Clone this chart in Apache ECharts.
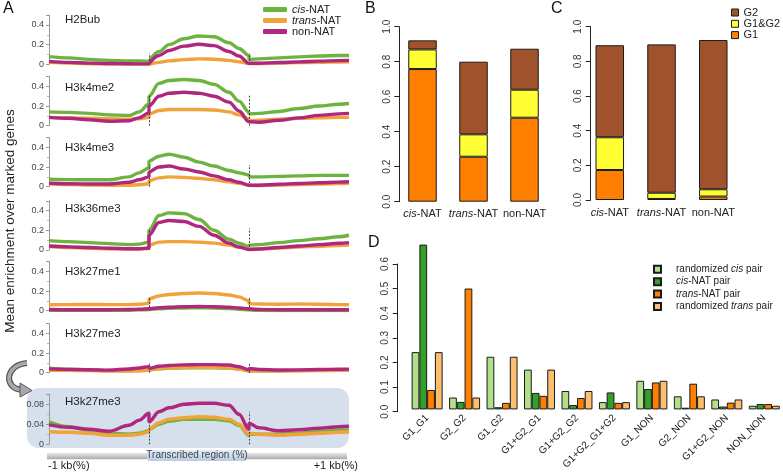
<!DOCTYPE html>
<html><head><meta charset="utf-8">
<script src="https://cdn.jsdelivr.net/npm/echarts@6/dist/echarts.min.js"></script>
<style>html,body{margin:0;padding:0;background:#fff}#c{width:783px;height:472px}</style>
</head><body><div id="c"></div>
<script>
// ---------- Panel A data ----------
const xPos = [0,20,40,60,80,90,100,100,110,120,135,150,165,180,190,200,200,210,230,250,270,290,300];
const markNames = ['H2Bub','H3k4me2','H3k4me3','H3k36me3','H3k27me1','H3k27me3','H3k27me3'];
const seriesNames = ['cis-NAT','trans-NAT','non-NAT'];

const h2bubCis   = [0.078,0.065,0.05,0.04,0.035,0.033,0.03, 0.035,0.13,0.2,0.26,0.288,0.28,0.22,0.16,0.09, 0.05,0.055,0.065,0.075,0.085,0.09,0.09];
const h2bubTrans = [0.02,0.012,0.006,0.003,0.002,0.002,0.002, 0.002,0.02,0.035,0.048,0.055,0.052,0.04,0.025,0.008, 0.005,0.008,0.012,0.017,0.02,0.024,0.025];
const h2bubNon   = [0.03,0.02,0.012,0.008,0.005,0.004,0.005, 0.008,0.09,0.14,0.185,0.203,0.19,0.13,0.085,0.01, 0.005,0.01,0.018,0.025,0.032,0.037,0.038];

const k4me2Cis   = [0.14,0.135,0.125,0.11,0.105,0.14,0.22, 0.3,0.43,0.46,0.47,0.46,0.42,0.34,0.25,0.14, 0.12,0.125,0.145,0.175,0.2,0.218,0.225];
const k4me2Trans = [0.085,0.08,0.075,0.07,0.065,0.07,0.085, 0.12,0.155,0.165,0.165,0.165,0.16,0.14,0.11,0.07, 0.05,0.055,0.065,0.075,0.08,0.085,0.085];
const k4me2Non   = [0.085,0.075,0.06,0.045,0.05,0.08,0.13, 0.2,0.3,0.33,0.34,0.33,0.3,0.24,0.15,0.04, 0.035,0.035,0.055,0.08,0.105,0.12,0.125];

const k4me3Cis   = [0.075,0.072,0.07,0.07,0.1,0.14,0.19, 0.26,0.31,0.33,0.3,0.25,0.21,0.165,0.14,0.12, 0.1,0.1,0.105,0.11,0.115,0.115,0.115];
const k4me3Trans = [0.03,0.022,0.018,0.015,0.015,0.02,0.03, 0.06,0.09,0.1,0.095,0.085,0.07,0.05,0.035,0.015, 0.01,0.012,0.018,0.023,0.028,0.032,0.035];
const k4me3Non   = [0.035,0.03,0.028,0.028,0.045,0.07,0.1, 0.15,0.2,0.21,0.18,0.15,0.11,0.07,0.045,0.015, 0.01,0.015,0.025,0.033,0.04,0.046,0.05];

const k36me3Cis   = [0.095,0.085,0.075,0.065,0.055,0.06,0.08, 0.2,0.35,0.377,0.37,0.31,0.2,0.11,0.07,0.035, 0.05,0.055,0.075,0.095,0.115,0.135,0.15];
const k36me3Trans = [0.035,0.025,0.018,0.012,0.01,0.01,0.015, 0.05,0.08,0.085,0.085,0.08,0.07,0.05,0.03,0.01, 0.005,0.01,0.02,0.03,0.038,0.045,0.05];
const k36me3Non   = [0.04,0.032,0.025,0.018,0.012,0.012,0.02, 0.15,0.28,0.3,0.29,0.24,0.15,0.07,0.03,0.005, 0.005,0.01,0.025,0.04,0.055,0.068,0.075];

const k27me1Cis   = [0.005,0.004,0.004,0.004,0.005,0.008,0.012, 0.012,0.02,0.025,0.028,0.03,0.028,0.022,0.015,0.01, 0.005,0.003,0.002,0.002,0.002,0.002,0.002];
const k27me1Trans = [0.06,0.062,0.063,0.062,0.062,0.065,0.075, 0.12,0.15,0.165,0.175,0.18,0.175,0.16,0.14,0.1, 0.07,0.068,0.065,0.068,0.065,0.062,0.06];
const k27me1Non   = [0.012,0.01,0.01,0.01,0.012,0.015,0.02, 0.02,0.03,0.035,0.04,0.042,0.04,0.035,0.028,0.02, 0.015,0.012,0.01,0.01,0.01,0.01,0.01];

const k27me3Cis   = [0.045,0.035,0.028,0.022,0.02,0.022,0.027, 0.03,0.04,0.046,0.05,0.05,0.05,0.047,0.038,0.018, 0.02,0.02,0.02,0.022,0.025,0.028,0.028];
const k27me3Trans = [0.025,0.024,0.022,0.018,0.018,0.02,0.025, 0.03,0.043,0.05,0.053,0.055,0.054,0.05,0.04,0.02, 0.022,0.02,0.018,0.02,0.022,0.024,0.025];
const k27me3Non   = [0.039,0.034,0.03,0.026,0.038,0.048,0.062, 0.045,0.065,0.073,0.08,0.082,0.082,0.078,0.06,0.03, 0.042,0.033,0.027,0.029,0.032,0.035,0.036];

const aTickLabels = ['0','0.2','0.4'];
const aTickLabelsZoom = ['0','0.04','0.08'];

// ---------- Panel B / C data ----------
const barCats = ['cis-NAT','trans-NAT','non-NAT'];
const groupNames = ['G1','G1&G2','G2'];
const bG1  = [0.758,0.257,0.48];
const bG12 = [0.112,0.128,0.16];
const bG2  = [0.052,0.415,0.234];
const cG1  = [0.173,0.006,0.02];
const cG12 = [0.189,0.036,0.042];
const cG2  = [0.531,0.856,0.861];
const bcTickLabels = ['0.0','0.2','0.4','0.6','0.8','1.0'];

// ---------- Panel D data ----------
const dCats = ['G1_G1','G2_G2','G1_G2','G1+G2_G1','G1+G2_G2','G1+G2_G1+G2','G1_NON','G2_NON','G1+G2_NON','NON_NON'];
const dNames = ['randomized cis pair','cis-NAT pair','trans-NAT pair','randomized trans pair'];
const dRandCis   = [0.236,0.049,0.217,0.164,0.076,0.030,0.118,0.054,0.041,0.015];
const dCisNat    = [0.679,0.031,0.009,0.068,0.018,0.070,0.084,0.007,0.012,0.022];
const dTransNat  = [0.080,0.498,0.027,0.056,0.047,0.027,0.111,0.106,0.028,0.022];
const dRandTrans = [0.236,0.049,0.217,0.164,0.076,0.030,0.118,0.054,0.041,0.015];
const dTickLabels = ['0.0','0.1','0.2','0.3','0.4','0.5','0.6'];

// ---------- styling / layout ----------
const FONT = 'Liberation Sans, Arial, sans-serif';
const NARROW = 'Liberation Sans Narrow, Liberation Sans, Arial, sans-serif';
const lineColors = ['#6db33f','#f2a23a','#b0287e'];
const stackColors = ['#ff8000','#ffff33','#a0522d'];
const dColors = ['#b2df8a','#33a02c','#ff7f00','#fdbf6f'];

const panelData = [
  [h2bubCis,h2bubTrans,h2bubNon],
  [k4me2Cis,k4me2Trans,k4me2Non],
  [k4me3Cis,k4me3Trans,k4me3Non],
  [k36me3Cis,k36me3Trans,k36me3Non],
  [k27me1Cis,k27me1Trans,k27me1Non],
  [k27me3Cis,k27me3Trans,k27me3Non],
  [k27me3Cis,k27me3Trans,k27me3Non]
];
const aTops = [15.1,76.5,137.5,200.8,261.5,323.5,394.3];
const aHeights = [49.2,49.2,49.2,49.2,49.2,49.2,50];
const aMax = [0.5,0.5,0.5,0.5,0.5,0.5,0.1];
const aInt = [0.2,0.2,0.2,0.2,0.2,0.2,0.04];
const aLabelY = [19.5,87.5,147.7,209.3,272.3,334,401.7];
const dashTop = [0.11,0.31,0.22,0.22,0.14,0.095,0.065];

function ital(name){
  return name.replace(/^(cis|trans)\b/, '{i|$1}').replace(/ (cis|trans) /, ' {i|$1} ');
}
function richI(size, fam){ return { i: { fontStyle:'italic', fontSize:size, color:'#222', fontFamily: fam || FONT } }; }
function tickFmt(labels, step){
  return function(v){
    const k = Math.round(v/step);
    if (Math.abs(v - k*step) > 1e-9) return '';
    return labels[k] !== undefined ? labels[k] : '';
  };
}

const grid = [], xAxis = [], yAxis = [], series = [];

// Panel A
for (let p = 0; p < 7; p++) {
  grid.push({ left: 49, top: aTops[p], width: 300, height: aHeights[p] });
  xAxis.push({ gridIndex: p, type: 'value', min: 0, max: 300, show: false });
  yAxis.push({
    gridIndex: p, type: 'value', min: 0, max: aMax[p], interval: aInt[p],
    axisLine: { show: true, lineStyle: { color: '#9a9a9a', width: 1 } },
    axisTick: { show: true, length: 3, lineStyle: { color: '#9a9a9a' } },
    minorTick: { show: true, splitNumber: 2, length: 2, lineStyle: { color: '#b5b5b5' } },
    splitLine: { show: false },
    axisLabel: { fontSize: 9, color: '#444', margin: 5,
      formatter: tickFmt(p < 6 ? aTickLabels : aTickLabelsZoom, aInt[p]) }
  });
  for (let s = 0; s < 3; s++) {
    const arr = panelData[p][s];
    const ser = {
      type: 'line', name: seriesNames[s], xAxisIndex: p, yAxisIndex: p,
      data: xPos.map((x, k) => [x, arr[k]]),
      showSymbol: false, symbol: 'none', smooth: 0.35, smoothMonotone: 'x',
      lineStyle: { width: 3.4, color: lineColors[s] }, itemStyle: { color: lineColors[s] },
      silent: true, z: 3 + s
    };
    if (s === 2) {
      ser.markLine = {
        silent: true, symbol: 'none', label: { show: false },
        lineStyle: { color: '#333', width: 0.9, type: [2, 1.5] },
        data: [
          [{ coord: [100, 0] }, { coord: [100, dashTop[p]] }],
          [{ coord: [200, 0] }, { coord: [200, dashTop[p]] }]
        ]
      };
    }
    series.push(ser);
  }
}

// Panels B and C
function addStackPanel(left, width, axLeft, top, height, d1, d2, d3, stackId) {
  const gi = grid.length;
  grid.push({ left: left, top: top, width: width, height: height });
  xAxis.push({ gridIndex: gi, type: 'category', data: barCats,
    axisLine: { show: false }, axisTick: { show: false },
    axisLabel: { interval: 0, hideOverlap: false, fontSize: 11, color: '#222', margin: 7,
      formatter: v => ital(v), rich: richI(11) } });
  yAxis.push({ gridIndex: gi, type: 'value', min: 0, max: 1, show: false });
  [d1, d2, d3].forEach((d, k) => {
    series.push({ type: 'bar', name: groupNames[k], stack: stackId, xAxisIndex: gi, yAxisIndex: gi,
      data: d, barWidth: 28.5, silent: true,
      itemStyle: { color: stackColors[k], borderColor: '#1a1a1a', borderWidth: 1 } });
  });
  const ai = grid.length;
  grid.push({ left: axLeft, top: top, width: 5, height: height });
  xAxis.push({ gridIndex: ai, type: 'value', min: 0, max: 1, show: false });
  yAxis.push({ gridIndex: ai, type: 'value', min: 0, max: 1, interval: 0.2,
    axisLine: { show: true, lineStyle: { color: '#222', width: 1 } },
    axisTick: { show: true, length: 5, lineStyle: { color: '#222' } },
    splitLine: { show: false },
    axisLabel: { rotate: 90, fontSize: 10, color: '#333', margin: 7, formatter: tickFmt(bcTickLabels, 0.2) } });
}
addStackPanel(397, 153, 399.3, 26.7, 175, bG1, bG12, bG2, 'b');
addStackPanel(583.9, 155.25, 590.7, 26.7, 173.3, cG1, cG12, cG2, 'c');

// Panel D
(function(){
  const gi = grid.length;
  grid.push({ left: 408.4, top: 239.5, width: 376, height: 172.2 });
  xAxis.push({ gridIndex: gi, type: 'category', data: dCats,
    axisLine: { show: false }, axisTick: { show: false },
    axisLabel: { interval: 0, hideOverlap: false, rotate: 45, fontSize: 10, color: '#222', margin: 7 } });
  yAxis.push({ gridIndex: gi, type: 'value', min: 0, max: 0.7, show: false });
  [dRandCis, dCisNat, dTransNat, dRandTrans].forEach((d, k) => {
    series.push({ type: 'bar', name: dNames[k], xAxisIndex: gi, yAxisIndex: gi, data: d,
      barWidth: 7.75, barGap: '0%', silent: true,
      itemStyle: { color: dColors[k], borderColor: '#1a1a1a', borderWidth: 1 } });
  });
  const ai = grid.length;
  grid.push({ left: 397.7, top: 264, width: 5, height: 147.7 });
  xAxis.push({ gridIndex: ai, type: 'value', min: 0, max: 1, show: false });
  yAxis.push({ gridIndex: ai, type: 'value', min: 0, max: 0.6, interval: 0.1,
    axisLine: { show: true, lineStyle: { color: '#222', width: 1 } },
    axisTick: { show: true, length: 5, lineStyle: { color: '#222' } },
    splitLine: { show: false },
    axisLabel: { rotate: 90, fontSize: 10, color: '#333', margin: 7, formatter: tickFmt(dTickLabels, 0.1) } });
})();

const legend = [
  { data: seriesNames, left: 263, top: 4, padding: 0, orient: 'vertical', icon: 'roundRect',
    itemWidth: 24, itemHeight: 5, itemGap: 0, selectedMode: false,
    formatter: n => ital(n),
    textStyle: { fontSize: 11, color: '#222', lineHeight: 10, fontFamily: FONT, rich: richI(11) } },
  { data: ['G2','G1&G2','G1'], left: 731, top: 7, padding: 0, orient: 'vertical', icon: 'rect',
    itemWidth: 7, itemHeight: 7, itemGap: 0.3, itemStyle: { borderColor: '#1a1a1a', borderWidth: 1 },
    selectedMode: false,
    textStyle: { fontSize: 11, color: '#222', lineHeight: 10, fontFamily: FONT } },
  { data: dNames, left: 653, top: 264.3, padding: 0, orient: 'vertical', icon: 'rect',
    itemWidth: 7, itemHeight: 7, itemGap: 2.4, selectedMode: false,
    formatter: n => ital(n),
    textStyle: { fontSize: 10, color: '#222', lineHeight: 10, padding: [0,0,0,10],
      fontFamily: NARROW, rich: richI(10, NARROW) } }
];

const graphic = [
  { type: 'rect', z: -10, shape: { x: 27, y: 388, width: 322, height: 60, r: 12 }, style: { fill: '#d6e0ec' } },
  { type: 'text', left: 3, top: 1, style: { text: 'A', fontSize: 16, fill: '#111', fontFamily: FONT } },
  { type: 'text', left: 365, top: 1, style: { text: 'B', fontSize: 16, fill: '#111', fontFamily: FONT } },
  { type: 'text', left: 551, top: 1, style: { text: 'C', fontSize: 16, fill: '#111', fontFamily: FONT } },
  { type: 'text', left: 368, top: 235, style: { text: 'D', fontSize: 16, fill: '#111', fontFamily: FONT } },
  { type: 'text', x: 10, y: 221, rotation: Math.PI / 2,
    style: { text: 'Mean enrichment over marked genes', fontSize: 13.5, fill: '#222', fontFamily: FONT,
      textAlign: 'center', textVerticalAlign: 'middle' } },
  // bottom bar
  { type: 'rect', shape: { x: 47, y: 452.7, width: 300, height: 6.5 },
    style: { fill: new echarts.graphic.LinearGradient(0,0,0,1,[{offset:0,color:'#ececec'},{offset:1,color:'#a9a9a9'}]) } },
  { type: 'rect', shape: { x: 147, y: 450, width: 100, height: 11, r: 3 },
    style: { fill: new echarts.graphic.LinearGradient(0,0,0,1,[{offset:0,color:'#e4edf8'},{offset:1,color:'#b6cbe6'}]) } },
  { type: 'text', x: 197, y: 455.5, style: { text: 'Transcribed region (%)', fontSize: 10, fill: '#444', fontFamily: FONT, textAlign: 'center', textVerticalAlign: 'middle' } },
  { type: 'text', x: 48, y: 465.5, style: { text: '-1 kb(%)', fontSize: 11, fill: '#222', fontFamily: FONT, textAlign: 'left', textVerticalAlign: 'middle' } },
  { type: 'text', x: 358, y: 465.5, style: { text: '+1 kb(%)', fontSize: 11, fill: '#222', fontFamily: FONT, textAlign: 'right', textVerticalAlign: 'middle' } },
  // curved arrow
  { type: 'bezierCurve', shape: { x1: 27, y1: 363, cpx1: 5, cpy1: 365, cpx2: 3, cpy2: 388, x2: 22, y2: 390 },
    style: { stroke: '#555', lineWidth: 6, fill: null } },
  { type: 'bezierCurve', shape: { x1: 27, y1: 363, cpx1: 5, cpy1: 365, cpx2: 3, cpy2: 388, x2: 22, y2: 390 },
    style: { stroke: '#a9a9a9', lineWidth: 3.6, fill: null } },
  { type: 'polygon', shape: { points: [[20, 383], [32, 390.5], [20, 397]] }, style: { fill: '#a9a9a9', stroke: '#555', lineWidth: 1 } }
];
markNames.forEach((n, p) => {
  graphic.push({ type: 'text', x: 65, y: aLabelY[p], style: { text: n, fontSize: 11.5, fill: '#222', fontFamily: FONT, textVerticalAlign: 'middle' } });
});

const chart = echarts.init(document.getElementById('c'), null, { renderer: 'canvas' });
chart.setOption({
  animation: false,
  backgroundColor: '#fff',
  textStyle: { fontFamily: FONT },
  grid, xAxis, yAxis, series, legend, graphic
});
</script></body></html>
